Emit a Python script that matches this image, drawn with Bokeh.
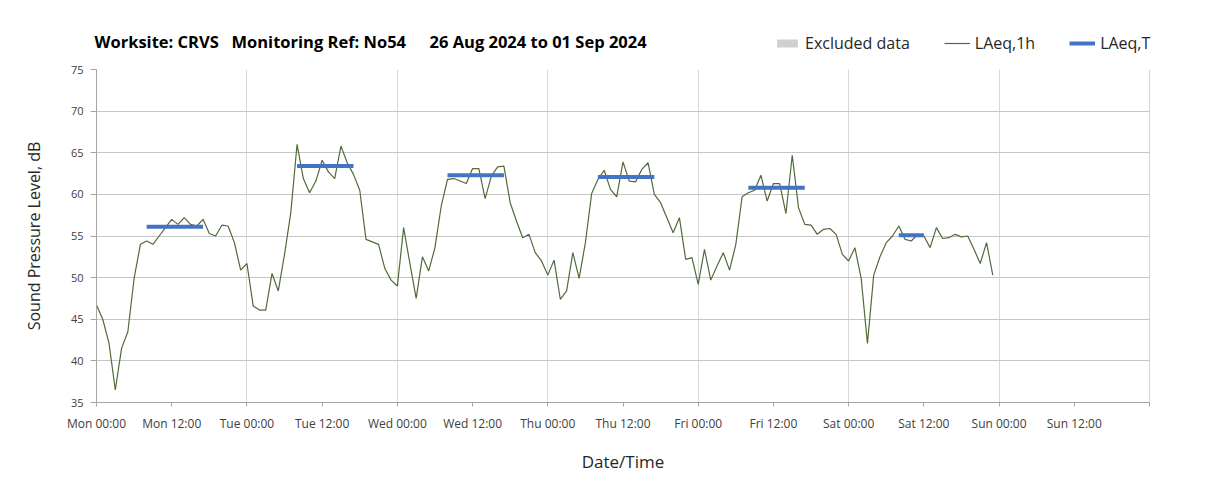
from bokeh.plotting import figure
from bokeh.layouts import column
from bokeh.models import FixedTicker, Label, Legend, LegendItem, Span
from bokeh.embed import file_html
from bokeh.resources import INLINE

# ---- data (hours from Mon 26 Aug 2024 00:00) ----
hours = list(range(144))
laeq_1h = [
    46.7, 45.0, 42.1, 36.5, 41.5, 43.5, 49.9, 54.0, 54.4, 54.0, 55.0, 56.0,
    57.0, 56.4, 57.2, 56.4, 56.2, 57.0, 55.3, 55.0, 56.3, 56.2, 54.2, 50.9,
    51.7, 46.6, 46.1, 46.1, 50.5, 48.4, 52.8, 57.8, 66.0, 61.9, 60.2, 61.6,
    64.1, 62.7, 61.9, 65.8, 63.8, 62.4, 60.5, 54.6, 54.3, 54.0, 51.1, 49.7,
    49.0, 56.0, 51.7, 47.5, 52.5, 50.8, 53.6, 58.6, 61.8, 61.9, 61.6, 61.3,
    63.1, 63.1, 59.5, 62.2, 63.3, 63.4, 59.0, 56.8, 54.8, 55.2, 53.0, 52.0,
    50.3, 52.1, 47.4, 48.4, 53.0, 49.9, 54.2, 60.1, 61.8, 62.9, 60.6, 59.7,
    63.9, 61.6, 61.5, 63.0, 63.8, 60.0, 59.0, 57.2, 55.4, 57.2, 52.2, 52.4,
    49.2, 53.4, 49.7, 51.4, 53.0, 50.9, 54.0, 59.7, 60.2, 60.5, 62.3, 59.2,
    61.3, 61.3, 57.7, 64.7, 58.4, 56.4, 56.3, 55.2, 55.8, 55.9, 55.2, 52.8,
    52.0, 53.6, 49.9, 42.1, 50.3, 52.5, 54.2, 55.0, 56.2, 54.6, 54.4, 55.2,
    55.0, 53.6, 56.0, 54.7, 54.8, 55.2, 54.9, 55.0, 53.4, 51.7, 54.2, 50.3,
]
period_start = [8, 32, 56, 80, 104, 128]
period_end = [17, 41, 65, 89, 113, 132]
laeq_t = [56.1, 63.4, 62.3, 62.1, 60.8, 55.1]

tick_hours = list(range(0, 168, 12))
tick_labels = ["Mon 00:00", "Mon 12:00", "Tue 00:00", "Tue 12:00", "Wed 00:00",
               "Wed 12:00", "Thu 00:00", "Thu 12:00", "Fri 00:00", "Fri 12:00",
               "Sat 00:00", "Sat 12:00", "Sun 00:00", "Sun 12:00"]
day_hours = [24, 48, 72, 96, 120, 144]
week_end = 168
y_ticks = [35, 40, 45, 50, 55, 60, 65, 70, 75]

title_parts = ["Worksite: CRVS", "Monitoring Ref: No54", "26 Aug 2024 to 01 Sep 2024"]

GREEN = "#4f6b3a"
BLUE = "#4472c4"
GREY_BOX = "#d0d0d0"

# ---- header strip: title and legend (own frame spanning the whole strip) ----
hdr = figure(width=1199, height=59, x_range=(0, 1), y_range=(0, 1),
             output_backend="svg", toolbar_location=None,
             x_axis_location=None, y_axis_location=None,
             min_border_left=0, min_border_right=0, min_border_top=0, min_border_bottom=0)
hdr.frame_align = False
hdr.outline_line_color = None
hdr.grid.visible = False
# legend proxies, placed outside the header's visible range
h_excl = hdr.quad(left=[2], right=[3], top=[3], bottom=[2], fill_color=GREY_BOX, line_color=None)
h_green = hdr.line([2, 3], [2, 2], line_color=GREEN, line_width=1.2)
h_blue = hdr.line([2, 3], [2, 2], line_color=BLUE, line_width=4)
legend = Legend(items=[LegendItem(label="Excluded data", renderers=[h_excl]),
                       LegendItem(label="LAeq,1h", renderers=[h_green]),
                       LegendItem(label="LAeq,T", renderers=[h_blue])],
                orientation="horizontal", location=(774, 5),
                border_line_color=None, background_fill_alpha=0,
                glyph_width=26, glyph_height=10, label_standoff=5, spacing=34,
                padding=0, margin=0, label_text_font="Open Sans",
                label_text_font_size="16px", label_text_color="#262626")
hdr.add_layout(legend)
for xpos, txt in zip([94, 231, 429], title_parts):
    hdr.add_layout(Label(x=xpos, y=18, x_units="screen", y_units="screen", text=txt,
                         text_font="Open Sans", text_font_style="bold",
                         text_font_size="16.5px", text_color="#000000",
                         text_baseline="middle"))

# ---- main chart ----
p = figure(width=1199, height=428, x_range=(0, week_end), y_range=(35, 75),
           output_backend="svg", toolbar_location=None,
           min_border_left=96, min_border_right=50, min_border_top=10,
           min_border_bottom=85)
p.frame_align = False
p.outline_line_color = None

p.xaxis.ticker = FixedTicker(ticks=tick_hours + [week_end])
overrides = {h: lab for h, lab in zip(tick_hours, tick_labels)}
overrides[week_end] = ""
p.xaxis.major_label_overrides = overrides
p.yaxis.ticker = FixedTicker(ticks=y_ticks)
for ax in (p.xaxis, p.yaxis):
    ax.axis_line_color = "#a6a6a6"
    ax.major_tick_line_color = "#a6a6a6"
    ax.minor_tick_line_color = None
    ax.major_tick_in = 0
    ax.major_label_text_font = "Open Sans"
    ax.major_label_text_color = "#404040"
    ax.axis_label_text_font = "Open Sans"
    ax.axis_label_text_font_style = "normal"
    ax.axis_label_text_color = "#262626"
p.xaxis.major_label_text_font_size = "12px"
p.yaxis.major_label_text_font_size = "11px"
p.xaxis.axis_label_text_font_size = "17px"
p.yaxis.axis_label_text_font_size = "16px"
p.xaxis.major_tick_out = 4
p.yaxis.major_tick_out = 6
p.xaxis.major_label_standoff = 8
p.yaxis.major_label_standoff = 7
p.xaxis.axis_label = "Date/Time"
p.yaxis.axis_label = "Sound Pressure Level, dB"
p.xaxis.axis_label_standoff = 15
p.yaxis.axis_label_standoff = 23

p.xgrid.ticker = FixedTicker(ticks=day_hours)
p.xgrid.grid_line_color = "#d9d9d9"
p.ygrid.ticker = FixedTicker(ticks=y_ticks)
p.ygrid.grid_line_color = "#c6c6c6"
p.add_layout(Span(location=week_end, dimension="height", line_color="#a6a6a6", line_width=1))

p.line(hours, laeq_1h, line_color=GREEN, line_width=1.2)
p.segment(x0=period_start, y0=laeq_t, x1=period_end, y1=laeq_t,
          line_color=BLUE, line_width=4)

layout = column(hdr, p, spacing=0)
open("out.html", "w").write(file_html(layout, INLINE))
